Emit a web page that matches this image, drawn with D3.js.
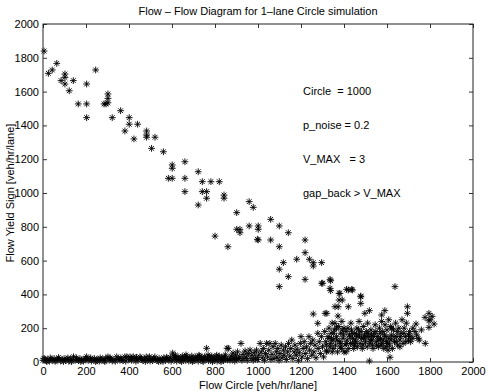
<!DOCTYPE html>
<html><head><meta charset="utf-8">
<script src="https://cdn.jsdelivr.net/npm/d3@7"></script>
<style>
body{margin:0;background:#fff;}
text{font-family:"Liberation Sans",Arial,Helvetica,sans-serif;fill:#000;}
</style></head>
<body><svg id="chart" width="488" height="391"></svg>
<script>
const xTicks = [0,200,400,600,800,1000,1200,1400,1600,1800,2000];
const yTicks = [0,200,400,600,800,1000,1200,1400,1600,1800,2000];
const titleText = "Flow \u2013 Flow Diagram for 1\u2013lane Circle simulation";
const xLabel = "Flow Circle [veh/hr/lane]";
const yLabel = "Flow Yield Sign [veh/hr/lane]";
const notes = [["Circle  = 1000",1200,1600],["p_noise = 0.2",1200,1400],["V_MAX   = 3",1200,1200],["gap_back > V_MAX",1200,1000]];

// upper (free-flow yield) branch
const upperBranch = [[5,1840],[25,1708],[43,1728],[64,1767],[84,1665],[102,1704],[102,1684],[102,1645],[122,1605],[141,1665],[203,1645],[245,1728],[164,1527],[203,1527],[203,1446],[284,1527],[293,1527],[302,1586],[302,1560],[302,1534],[322,1446],[361,1487],[401,1446],[401,1407],[381,1367],[440,1407],[482,1367],[482,1343],[482,1330],[521,1330],[423,1320],[505,1264],[560,1244],[601,1166],[601,1146],[660,1185],[722,1126],[583,1087],[601,1087],[660,1087],[741,1067],[781,1067],[820,1067],[660,1008],[741,1008],[761,1008],[761,969],[842,988],[842,969],[722,929],[959,949],[978,915],[1059,844],[1099,805],[1141,765],[1001,805],[1001,785],[959,805],[1001,722],[1059,722],[1099,682],[1219,722],[1219,647],[1239,608],[1257,588],[1257,568],[1296,588],[1118,588],[1099,549],[1180,608],[1141,505],[1219,489],[1296,466],[1335,489],[1335,436],[1099,446],[1381,406],[1412,430],[1436,430],[1478,390],[800,745],[860,682],[901,884],[901,785],[916,785],[916,765],[997,726],[1301,466],[1338,481],[1338,422]];

// near-zero band at low circle flow
const lowBand = [[0,10],[8,18],[15,8],[22,14],[30,5],[38,16],[45,10],[52,20],[60,8],[68,14],[75,18],[82,6],[90,12],[98,20],[105,10],[112,15],[120,5],[128,18],[135,12],[142,31],[150,10],[158,16],[165,8],[172,20],[180,12],[188,5],[195,15],[203,31],[210,10],[218,18],[225,6],[232,14],[240,20],[248,10],[255,15],[262,5],[270,12],[278,18],[285,8],[292,22],[302,31],[308,12],[315,18],[322,6],[330,14],[343,31],[350,20],[358,10],[365,15],[372,8],[381,30],[390,31],[398,18],[405,30],[412,10],[420,31],[428,20],[435,28],[442,12],[451,30],[458,15],[465,8],[472,18],[480,30],[488,12],[495,31],[502,20],[510,8],[520,30],[525,15],[532,10],[540,22],[548,6],[555,16],[562,25],[570,10],[578,20],[585,12],[592,28],[603,53],[608,35],[612,15],[618,25],[622,5],[628,30],[632,15],[638,22],[642,8],[648,35],[652,18],[658,28],[662,10],[668,32],[672,20],[678,6],[682,25],[688,14],[692,35],[698,20],[702,8],[708,30],[712,15],[718,25],[722,5],[728,35],[732,18],[738,28],[742,10],[748,22],[752,32],[758,15],[761,81],[765,25],[770,8],[775,30],[780,18],[785,35],[790,10],[795,25],[800,15],[805,32],[810,5],[815,22],[820,35],[825,12],[830,28],[835,18],[840,8],[845,30],[850,20],[856,81],[858,12],
  [4,22],[18,2],[34,24],[56,4],[72,26],[95,3],[116,24],[132,2],[155,24],[176,3],[198,22],[222,24],[245,2],[266,24],[288,2],[312,24],[336,4],[362,24],[385,5],[410,22],[432,4],[455,24],[476,3],[498,6],[515,20],[538,3],[558,4],[575,28],[596,5],[615,40],[645,2],[665,42],[695,3],[725,40],[745,2],[768,42],[788,2],[808,40],[828,2],[848,42]];

// scattered points near the transition
const transition = [[862,81],[865,20],[870,10],[875,35],[880,15],[884,53],[888,25],[892,5],[896,40],[900,15],[905,60],[910,20],[915,30],[921,110],[925,10],[930,45],[935,20],[940,65],[945,30],[950,10],[955,50],[963,71],[968,20],[972,40],[978,10],[983,55],[988,25],[993,70],[998,15],[1003,40],[1010,110],[1015,60],[1020,25],[1025,80],[1030,10],[1035,50],[1040,110],[1045,30],[1050,70],[1055,110],[1060,15],[1065,45],[1070,90],[1075,20],[1080,110],[1085,60],[1088,30],[1092,80],[1098,10],[1102,50],[1108,100],[1112,25],[1118,70],[1122,40],[1128,90],[1132,15],[1138,60],[1142,110],[1148,35],[1152,80],[1157,130],[1162,20],[1168,60],[1172,100],[1178,40],[1182,75],[1188,10],[1192,55],[1197,110],[1200,150],[1205,30],[1210,80],[1215,120],[1220,50],[1225,90],[1230,20],[1237,150],[1240,70],[1245,110],[1250,40],[1255,130],[1257,284],[1260,60],[1265,100],[1270,25],[1278,229],[1278,170],[1280,80],[1285,120],[1290,50],[1295,150],[1300,90],[1305,30],[1312,288],[1320,61]];

// congested cluster
const congested = [[1310,180],[1315,120],[1320,67],[1320,288],[1325,150],[1330,200],[1335,90],[1340,170],[1345,60],[1345,230],[1350,130],[1355,190],[1358,327],[1358,229],[1360,100],[1365,150],[1370,60],[1372,272],[1373,327],[1375,210],[1377,406],[1377,367],[1380,120],[1385,170],[1388,80],[1390,240],[1392,367],[1395,140],[1400,200],[1400,60],[1405,100],[1410,180],[1415,130],[1418,200],[1420,426],[1420,327],[1422,80],[1425,160],[1430,110],[1432,230],[1435,190],[1439,426],[1440,140],[1445,80],[1450,170],[1455,120],[1460,200],[1462,90],[1465,150],[1470,240],[1475,110],[1478,386],[1478,347],[1480,180],[1482,140],[1485,80],[1490,210],[1495,160],[1497,288],[1500,120],[1505,180],[1508,90],[1510,230],[1515,150],[1518,304],[1518,6],[1520,110],[1525,190],[1530,130],[1535,80],[1540,170],[1545,220],[1550,120],[1555,150],[1560,90],[1565,200],[1570,140],[1575,278],[1575,240],[1578,110],[1580,180],[1585,80],[1590,304],[1591,220],[1595,150],[1598,120],[1600,190],[1605,70],[1608,250],[1610,140],[1612,100],[1614,28],[1617,210],[1620,160],[1625,80],[1630,190],[1635,120],[1637,446],[1640,230],[1645,150],[1650,100],[1655,200],[1660,130],[1665,170],[1670,250],[1675,110],[1680,200],[1685,150],[1690,230],[1695,327],[1695,288],[1700,130],[1705,180],[1710,120],[1720,200],[1735,225],[1738,160],[1745,140],[1750,130],[1760,190],[1777,264],[1778,110],[1795,288],[1795,244],[1795,205],[1800,250],[1810,270],[1819,225],[1330,140],[1350,80],[1365,200],[1385,110],[1410,60],[1428,150],[1450,100],[1468,190],[1490,140],[1512,170],[1532,100],[1548,180],[1562,130],[1588,160],[1602,110],[1622,200],[1642,120],[1660,90],[1678,170],[1700,160],[1720,140],[1730,180],
  [1338,110],[1352,170],[1368,130],[1382,90],[1398,160],[1412,110],[1438,170],[1452,130],[1472,160],[1488,100],[1502,150],[1522,130],[1538,150],[1552,100],[1568,170],[1582,130],[1596,90],[1618,130],[1632,150],[1648,180],[1662,150],[1688,120],[1708,150],[1318,100],[1342,140],[1392,190],[1442,110],[1458,160],[1528,160],[1572,100]];

const W = 488, H = 391;
const svg = d3.select("#chart");
const x = d3.scaleLinear().domain([0,2000]).range([43,473]);
const y = d3.scaleLinear().domain([0,2000]).range([362,24]);
const [x0,x1] = x.range(), [y0,y1] = y.range();
const tl = 4;

// title
svg.append("text").attr("x",(x0+x1)/2).attr("y",15).attr("text-anchor","middle")
  .attr("font-size",11).text(titleText);

// points
const allPts = upperBranch.concat(lowBand, transition, congested);
const r = 3.4, d = 2.4;
const star = `M${-r},0L${r},0M0,${-r}L0,${r}M${-d},${-d}L${d},${d}M${-d},${d}L${d},${-d}`;
svg.append("g").selectAll("path").data(allPts).join("path")
  .attr("transform", p => `translate(${x(p[0])},${y(p[1])})`)
  .attr("d", star).attr("fill","none").attr("stroke","#000").attr("stroke-width",0.9);

// axes (inward ticks, box)
const axB = d3.axisBottom(x).tickValues(xTicks).tickSize(-tl).tickPadding(5).tickFormat(d3.format("d"));
const axT = d3.axisTop(x).tickValues(xTicks).tickSize(-tl).tickFormat("");
const axL = d3.axisLeft(y).tickValues(yTicks).tickSize(-tl).tickPadding(4).tickFormat(d3.format("d"));
const axR = d3.axisRight(y).tickValues(yTicks).tickSize(-tl).tickFormat("");
function style(g){
  g.select(".domain").remove();
  g.selectAll("line").attr("stroke","#000").attr("stroke-width",0.8);
  g.selectAll("text").attr("font-size",11).attr("font-family",'"Liberation Sans",Arial,sans-serif').attr("fill","#000");
}
svg.append("g").attr("transform",`translate(0,${y0})`).call(axB).call(style);
svg.append("g").attr("transform",`translate(0,${y1})`).call(axT).call(style);
svg.append("g").attr("transform",`translate(${x0},0)`).call(axL).call(style);
svg.append("g").attr("transform",`translate(${x1},0)`).call(axR).call(style);
svg.append("rect").attr("x",x0).attr("y",y1).attr("width",x1-x0).attr("height",y0-y1)
  .attr("fill","none").attr("stroke","#222").attr("stroke-width",1);

// notes
svg.append("g").selectAll("text").data(notes).join("text")
  .attr("x",n=>x(n[1])+2).attr("y",n=>y(n[2])).attr("dy","0.35em")
  .attr("font-size",11).attr("xml:space","preserve").style("white-space","pre").text(n=>n[0]);

// axis labels
svg.append("text").attr("x",(x0+x1)/2).attr("y",389).attr("text-anchor","middle")
  .attr("font-size",11).text(xLabel);
svg.append("text").attr("transform",`translate(14,${(y0+y1)/2}) rotate(-90)`).attr("text-anchor","middle")
  .attr("font-size",11).text(yLabel);
</script></body></html>
